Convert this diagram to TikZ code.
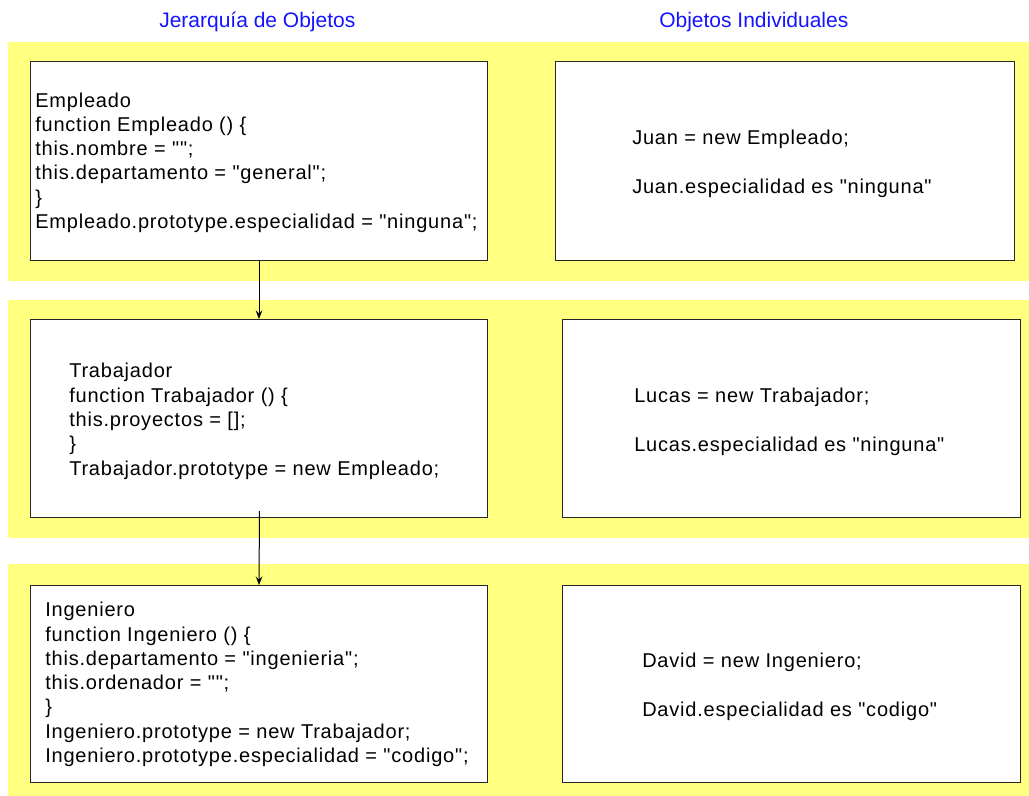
\documentclass[tikz,border=0pt]{standalone}
\usepackage{fontspec}
\setmainfont{Liberation Sans}
\newfontfamily\codefam[LetterSpace=4]{Liberation Sans}
\usetikzlibrary{arrows.meta}
\definecolor{bandyellow}{RGB}{255,255,128}
\definecolor{titleblue}{RGB}{20,20,255}
\newcommand\cfont{\codefam\fontsize{15pt}{18.2pt}\selectfont}
\newcommand\tfont{\fontsize{15.75pt}{18pt}\selectfont}
\begin{document}
\begin{tikzpicture}[x=0.75pt,y=-0.75pt,
  band/.style={fill=bandyellow},
  box/.style={draw=black!85, line width=0.75pt, fill=white, rectangle, inner sep=0pt, anchor=north west},
  code/.style={inner sep=0pt, anchor=base west, align=left, font=\cfont},
  titletext/.style={text=titleblue, font=\tfont, inner sep=0pt, anchor=base west},
  link/.style={draw=black, line width=0.75pt, -{Stealth[length=6.5pt,width=5pt,inset=2.5pt]}}]
\useasboundingbox (0,0) rectangle (1029,796);
% bands
\fill[band] (8,42) rectangle (1029,281);
\fill[band] (8,300) rectangle (1029,538);
\fill[band] (8,564) rectangle (1029,796);
% titles
\node[titletext] (t1) at (159,27) {Jerarquía de Objetos};
\node[titletext] (t2) at (659,27) {Objetos Individuales};
% boxes
\node[box, minimum width=342.75pt, minimum height=149.25pt] (emp) at (30,61) {};
\node[box, minimum width=344.25pt, minimum height=149.25pt] (juan) at (555,61) {};
\node[box, minimum width=342.75pt, minimum height=148.5pt] (trab) at (30,319) {};
\node[box, minimum width=343.5pt, minimum height=148.5pt] (lucas) at (562,319) {};
\node[box, minimum width=342.75pt, minimum height=147.75pt] (ing) at (30,585) {};
\node[box, minimum width=343.5pt, minimum height=147.75pt] (david) at (562,585) {};
% code texts (anchored at the baseline of their last line)
\node[code] (empt) at (35,228.5) {Empleado\\function Empleado () \{\\this.nombre = "";\\this.departamento = "general";\\\}\\Empleado.prototype.especialidad = "ninguna";};
\node[code] (trabt) at (69,475) {Trabajador\\function Trabajador () \{\\this.proyectos = [];\\\}\\Trabajador.prototype = new Empleado;};
\node[code] (ingt) at (45,762.5) {Ingeniero\\function Ingeniero () \{\\this.departamento = "ingenieria";\\this.ordenador = "";\\\}\\Ingeniero.prototype = new Trabajador;\\Ingeniero.prototype.especialidad = "codigo";};
\node[code] (juan1) at (632,144) {Juan = new Empleado;};
\node[code] (juan2) at (632,193) {Juan.especialidad es "ninguna"};
\node[code] (lucas1) at (634,402) {Lucas = new Trabajador;};
\node[code] (lucas2) at (634,451) {Lucas.especialidad es "ninguna"};
\node[code] (david1) at (642,667) {David = new Ingeniero;};
\node[code] (david2) at (642,716) {David.especialidad es "codigo"};
% connectors
\draw[link] (emp.south) -- (trab.north);
\coordinate (a2s) at (259.5,511);
\draw[link] (a2s) -- (ing.north);
\end{tikzpicture}
\end{document}
